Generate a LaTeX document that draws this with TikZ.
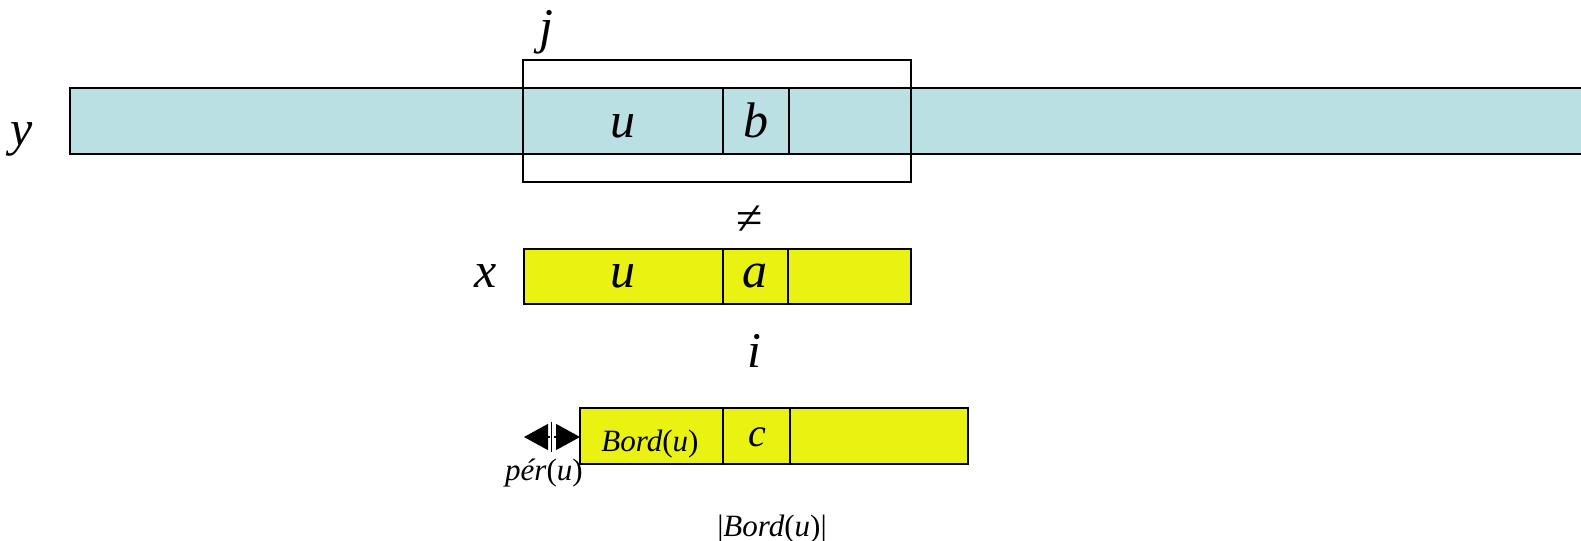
\documentclass[tikz,border=0pt]{standalone}
\usepackage{fontspec}
\setmainfont{Liberation Serif}
\usetikzlibrary{arrows.meta}
\definecolor{cyanfill}{RGB}{186,224,227}
\definecolor{yellowfill}{RGB}{233,242,16}
\tikzset{
  cell/.style={draw=black, line width=1pt},
  big/.style={font=\fontsize{25}{29}\selectfont\itshape, inner sep=0pt, anchor=base},
  small/.style={font=\fontsize{15.5}{18}\selectfont, inner sep=0pt, anchor=base},
}
\begin{document}
\begin{tikzpicture}[x=0.5pt, y=-0.5pt]
\useasboundingbox (0,0) rectangle (1581,541);
\begin{scope}
\clip (0,0) rectangle (1581,541);
% text y, shown as a long open-ended strip
\fill[cyanfill] (70,88) rectangle (1620,154);
\draw[line width=1pt] (1620,88) -- (70,88) -- (70,154) -- (1620,154);
\draw[cell] (723,88) -- (723,154);
\draw[cell] (789,88) -- (789,154);
\end{scope}
% window at position j
\draw[cell] (523,60) rectangle (911,182);
\node[big] (ylab) at (22,145) {y};
\node[big] (jlab) at (546,43) {j};
\node[big] (yu) at (623,137) {u};
\node[big] (yb) at (756,137) {b};
\node[font=\fontsize{24}{28}\selectfont, inner sep=0pt] (neq) at (750,220) {≠};

% pattern x
\draw[cell, fill=yellowfill] (524,249) rectangle (911,304);
\draw[cell] (723,249) -- (723,304);
\draw[cell] (788,249) -- (788,304);
\node[big] (xlab) at (486,287) {x};
\node[big] (xu) at (623,287) {u};
\node[big] (xa) at (755,287) {a};
\node[big] (ilab) at (754,367) {i};

% shifted pattern, aligned on the border of u
\draw[cell, fill=yellowfill] (580,408) rectangle (968,464);
\draw[cell] (723,408) -- (723,464);
\draw[cell] (790,408) -- (790,464);
\node[small] (bord) at (650,451) {\textit{Bord}(\textit{u})};
\node[big, font=\fontsize{20}{23}\selectfont\itshape] (cc) at (757,446) {c};
\node[small] (per) at (544,480) {\textit{pér}(\textit{u})};
\node[small] (bordlen) at (772,536) {|\textit{Bord}(\textit{u})|};

% period marker
\coordinate (perL) at (524,437);
\coordinate (perM) at (551.5,437);
\coordinate (perR) at (580,437);
\draw[line width=0.6pt, -{Triangle[length=12pt,width=13pt]}] ([xshift=-1pt]perM) -- (perL);
\draw[line width=0.6pt, -{Triangle[length=12pt,width=13pt]}] ([xshift=1pt]perM) -- (perR);
\draw[line width=0.8pt] (551.5,422) -- (551.5,452);
\end{tikzpicture}
\end{document}
